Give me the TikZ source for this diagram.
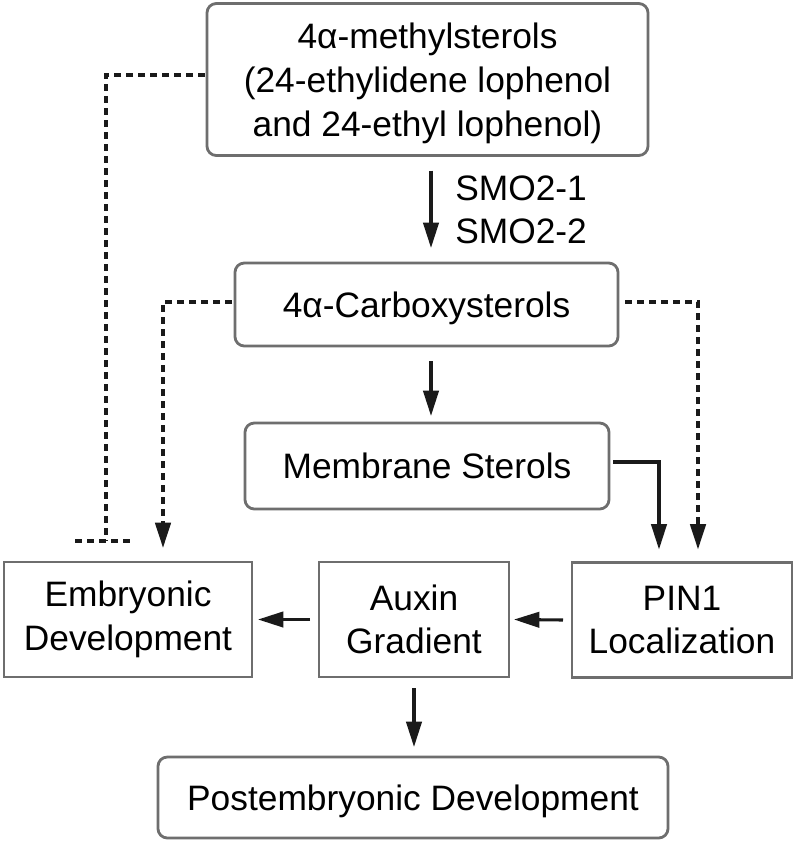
\documentclass[tikz,border=0pt]{standalone}
\usepackage{fontspec}
\setmainfont{Liberation Sans}
\usetikzlibrary{arrows.meta,calc}
\definecolor{boxgray}{HTML}{6E6E6E}
\definecolor{ink}{HTML}{1A1A1A}
\tikzset{
  base/.style={draw=boxgray, line width=2.1pt, inner sep=0pt, outer sep=0pt,
    align=center, font=\fontsize{26.5}{32.5}\selectfont, text=black},
  rbox/.style={base, rounded corners=7pt},
  sbox/.style={base},
  arr/.style={draw=ink, line width=2.3pt, -{Triangle[length=19pt,width=11.5pt]}},
  darr/.style={draw=ink, line width=2.6pt, dash pattern=on 5pt off 4pt, -{Triangle[length=19pt,width=11.5pt]}},
  dline/.style={draw=ink, line width=2.6pt, dash pattern=on 5pt off 4pt},
}
\begin{document}
\begin{tikzpicture}[x=0.75pt,y=-0.75pt]
\useasboundingbox (0,0) rectangle (797,844);
\fill[white] (0,0) rectangle (797,844);

\node[rbox, minimum width=330.75pt, minimum height=114pt, text depth=-2pt,
  font=\fontsize{26.5}{33}\selectfont] (top) at (427.5,79.5)
  {4α-methylsterols\\(24-ethylidene lophenol\\and 24-ethyl lophenol)};
\node[rbox, minimum width=287.25pt, minimum height=62.25pt, text depth=0pt] (carb) at (426.5,304.5) {4α-Carboxysterols};
\node[rbox, minimum width=273pt, minimum height=64.5pt] (mem) at (427,466) {Membrane Sterols};
\node[sbox, minimum width=186pt, minimum height=86.25pt] (emb) at (128,619.5) {Embryonic\\Development};
\node[sbox, minimum width=142.5pt, minimum height=86.25pt] (aux) at (414,619.5) {Auxin\\Gradient};
\node[sbox, minimum width=165pt, minimum height=86.25pt] (pin) at (682,620) {PIN1\\Localization};
\node[rbox, minimum width=382.5pt, minimum height=60.75pt, text depth=0pt] (post) at (413,797.5) {Postembryonic Development};

\node[anchor=west, inner sep=0pt, align=left, font=\fontsize{26.5}{32.5}\selectfont] (smo) at (455,210) {SMO2-1\\SMO2-2};

% solid arrows
\draw[arr] ([shift={(3.5,15)}]top.south) -- ([shift={(4.5,-15)}]carb.north);
\draw[arr] ([shift={(4.5,15)}]carb.south) -- ([shift={(4,-7)}]mem.north);
\draw[arr] ([shift={(0,11)}]aux.south) -- ([shift={(1,-10)}]post.north);
\draw[arr] ([shift={(-9,0)}]pin.west) -- ([shift={(5,0)}]aux.east);
\draw[arr] ([shift={(-9,0)}]aux.west) -- ([shift={(6,0)}]emb.east);
\coordinate (m1) at ([shift={(4,-4)}]mem.east);
\coordinate (p1) at ([shift={(-23,-13)}]pin.north);
\draw[arr] (m1) -| (p1);

% dotted connectors
\coordinate (c1) at ([shift={(7,-2.5)}]carb.east);
\coordinate (p2) at ([shift={(16,-13)}]pin.north);
\draw[darr] (c1) -| (p2);
\coordinate (c2) at ([shift={(-3,-2.5)}]carb.west);
\coordinate (e1) at ([shift={(35,-14)}]emb.north);
\draw[darr] (c2) -| (e1);
\coordinate (t1) at ([shift={(-2,-4.5)}]top.west);
\coordinate (bar) at (106,541);
\draw[dline] (t1) -| (bar);
\draw[dline] ([xshift=-31pt*0.75]bar) -- ([xshift=26pt*0.75]bar);
\end{tikzpicture}
\end{document}
